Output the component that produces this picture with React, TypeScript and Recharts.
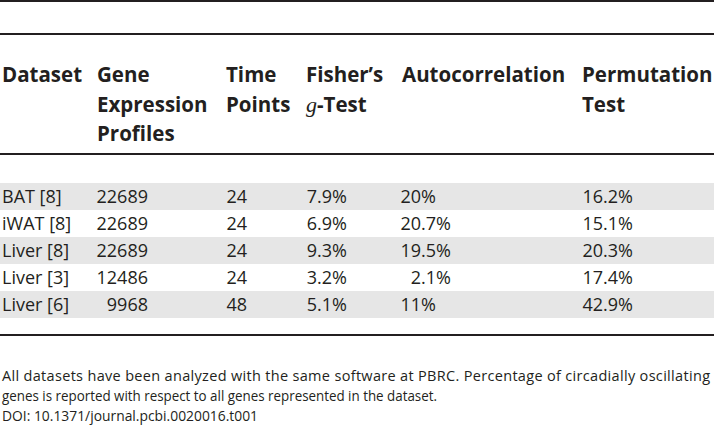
import { ComposedChart, Bar, Cell, XAxis, YAxis, LabelList, Customized } from 'recharts';

const datasets = ['BAT [8]', 'iWAT [8]', 'Liver [8]', 'Liver [3]', 'Liver [6]'];
const geneProfiles = ['22689', '22689', '22689', '12486', '9968'];
const timePoints = ['24', '24', '24', '24', '48'];
const fisherTest = ['7.9%', '6.9%', '9.3%', '3.2%', '5.1%'];
const autocorrelation = ['20%', '20.7%', '19.5%', '2.1%', '11%'];
const permutationTest = ['16.2%', '15.1%', '20.3%', '17.4%', '42.9%'];

const headers = [
  ['Dataset'],
  ['Gene', 'Expression', 'Profiles'],
  ['Time', 'Points'],
  ['Fisher\u2019s', 'g-Test'],
  ['Autocorrelation'],
  ['Permutation', 'Test'],
];

const footnote = [
  'All datasets have been analyzed with the same software at PBRC. Percentage of circadially oscillating',
  'genes is reported with respect to all genes represented in the dataset.',
  'DOI: 10.1371/journal.pcbi.0020016.t001',
];
const footnoteWidths = [708, 435, 256];

const rows = datasets.map((d, i) => ({
  dataset: d,
  genes: geneProfiles[i],
  time: timePoints[i],
  fisher: fisherTest[i],
  auto: autocorrelation[i],
  perm: permutationTest[i],
  band: 1,
}));

const INK = '#231f20';
const FONT = '"Open Sans", sans-serif';
const colX = [2, 97, 226, 306, 402, 582];

const Header = () => (
  <g fontFamily={FONT} fill={INK}>
    <rect x={0} y={0} width={714} height={2} fill={INK} />
    <rect x={0} y={33} width={714} height={2} fill={INK} />
    <rect x={0} y={153} width={714} height={2} fill={INK} />
    <rect x={0} y={334} width={714} height={2} fill={INK} />
    {headers.map((lines, c) =>
      lines.map((t, l) => (
        <text key={c + '-' + l} x={colX[c]} y={82 + l * 29.5} fontSize={20.5} fontWeight={700}>
          {t === 'g-Test' ? (
            <>
              <tspan fontFamily='"Liberation Serif", serif' fontStyle="italic" fontWeight={400} fontSize={22}>g</tspan>
              <tspan>-Test</tspan>
            </>
          ) : (
            t
          )}
        </text>
      ))
    )}
    {footnote.map((t, i) => (
      <text
        key={i}
        x={2}
        y={381 + i * 20}
        fontSize={14.5}
        textLength={footnoteWidths[i]}
        lengthAdjust={i === 0 ? 'spacing' : 'spacingAndGlyphs'}
      >
        {t}
      </text>
    ))}
  </g>
);

const renderRow = (props: any) => {
  const { y, height, index } = props;
  const r = rows[index];
  const by = y + height / 2 + 6.5;
  const [ai, af] = r.auto.includes('.') ? r.auto.split('.') : [r.auto.replace('%', ''), ''];
  return (
    <g fontFamily={FONT} fontSize={18} fill={INK}>
      <text x={colX[0]} y={by}>{r.dataset}</text>
      <text x={148} y={by} textAnchor="end">{r.genes}</text>
      <text x={247} y={by} textAnchor="end">{r.time}</text>
      <text x={347} y={by} textAnchor="end">{r.fisher}</text>
      <text x={421} y={by} textAnchor="end">{ai}</text>
      <text x={421} y={by}>{af ? '.' + af : '%'}</text>
      <text x={633} y={by} textAnchor="end">{r.perm}</text>
    </g>
  );
};

export default function App() {
  return (
    <div style={{ width: 714, height: 427, background: '#fff' }}>
      <style>{'body{margin:0}'}</style>
      <ComposedChart
        width={714}
        height={427}
        data={rows}
        layout="vertical"
        margin={{ top: 183, right: 0, bottom: 109, left: 0 }}
        barCategoryGap={0}
      >
        <XAxis type="number" domain={[0, 1]} hide />
        <YAxis type="category" dataKey="dataset" hide />
        <Bar dataKey="band" isAnimationActive={false}>
          {rows.map((r, i) => (
            <Cell key={r.dataset + i} fill={i % 2 === 0 ? '#e6e6e6' : '#ffffff'} />
          ))}
          <LabelList dataKey="band" content={renderRow} />
        </Bar>
        <Customized component={Header} />
      </ComposedChart>
    </div>
  );
}
